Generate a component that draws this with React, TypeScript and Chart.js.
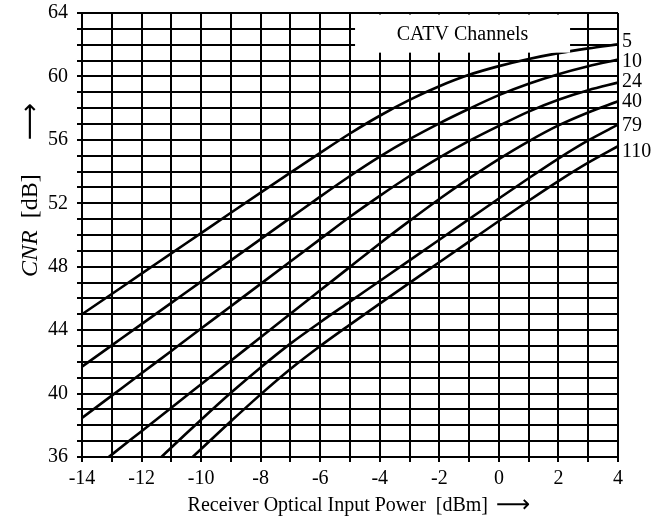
import React, { useEffect, useRef } from "react";
import { Chart, registerables } from "chart.js";

Chart.register(...registerables);

// Receiver optical input power [dBm]
const powerDbm = [-14, -13, -12, -11, -10, -9, -8, -7, -6, -5, -4, -3, -2, -1, 0, 1, 2, 3, 4];

// CNR [dB] for each number of CATV channels
const ch5 = [45.0, 46.28, 47.56, 48.84, 50.12, 51.4, 52.67, 53.93, 55.18, 56.4, 57.52, 58.52, 59.38, 60.1, 60.65, 61.1, 61.47, 61.77, 62.02];
const ch10 = [41.7, 43.04, 44.38, 45.72, 47.06, 48.4, 49.74, 51.08, 52.42, 53.72, 54.94, 56.04, 57.04, 57.96, 58.82, 59.54, 60.14, 60.64, 61.06];
const ch24 = [38.46, 39.87, 41.28, 42.69, 44.1, 45.51, 46.92, 48.33, 49.74, 51.15, 52.47, 53.72, 54.88, 55.93, 56.88, 57.78, 58.53, 59.13, 59.61];
const ch40 = [34.67, 36.15, 37.63, 39.11, 40.59, 42.07, 43.55, 45.03, 46.51, 47.99, 49.47, 50.89, 52.27, 53.57, 54.79, 55.91, 56.91, 57.73, 58.43];
const ch79 = [null, null, 34.8, 36.6, 38.35, 40.05, 41.65, 43.15, 44.5, 45.8, 47.1, 48.4, 49.7, 51.0, 52.3, 53.58, 54.82, 55.96, 56.96];
const ch110 = [null, null, null, 34.75, 36.5, 38.25, 39.95, 41.55, 43.0, 44.35, 45.67, 46.98, 48.28, 49.58, 50.88, 52.16, 53.4, 54.56, 55.6];

const seriesValues = [ch5, ch10, ch24, ch40, ch79, ch110];
const channelLabels = ["5", "10", "24", "40", "79", "110"];
// CNR value at which each curve's right-hand label sits
const channelLabelDb = [62.2, 60.95, 59.65, 58.4, 56.9, 55.25];

const legendTitle = "CATV Channels";
const legendBoxDbm = [-4.83, 2.39];
const legendBoxBottomDb = 61.5;

const xTitle = "Receiver Optical Input Power  [dBm] ";
const yTitleItalic = "CNR";
const yTitleUnit = "  [dB]  ";
const arrow = "\u27F6";

const serif = "'Liberation Serif', 'Times New Roman', serif";

const annotations = {
  id: "annotations",
  afterDatasetsDraw(chart: any) {
    const { ctx, chartArea, scales } = chart;
    const x = scales.x;
    const y = scales.y;
    ctx.save();
    // legend box
    const l = x.getPixelForValue(legendBoxDbm[0]);
    const r = x.getPixelForValue(legendBoxDbm[1]);
    const t = chartArea.top + 1.5;
    const b = y.getPixelForValue(legendBoxBottomDb);
    ctx.fillStyle = "#fff";
    ctx.fillRect(l, t, r - l, b - t);
    ctx.fillStyle = "#000";
    ctx.font = `20px ${serif}`;
    ctx.textAlign = "center";
    ctx.textBaseline = "middle";
    ctx.fillText(legendTitle, (l + r) / 2, (t + b) / 2 + 1);

    // channel labels at right end
    ctx.textAlign = "left";
    channelLabels.forEach((s, i) => {
      ctx.fillText(s, chartArea.right + 4, y.getPixelForValue(channelLabelDb[i]));
    });

    // x axis title
    ctx.textBaseline = "alphabetic";
    ctx.font = `20px ${serif}`;
    const w1 = ctx.measureText(xTitle).width;
    ctx.font = `24px ${serif}, 'DejaVu Sans'`;
    const w2 = ctx.measureText(arrow).width;
    const cx = (chartArea.left + chartArea.right) / 2 + 9;
    const sx = cx - (w1 + w2 + 3) / 2;
    ctx.font = `20px ${serif}`;
    ctx.fillText(xTitle, sx, chartArea.bottom + 54);
    ctx.font = `24px ${serif}, 'DejaVu Sans'`;
    ctx.fillText(arrow, sx + w1 + 3, chartArea.bottom + 55);

    // y axis title (rotated)
    ctx.translate(chartArea.left - 45, chartArea.bottom - 180);
    ctx.rotate(-Math.PI / 2);
    let px = 0;
    ctx.font = `italic 24px ${serif}`;
    ctx.fillText(yTitleItalic, px, 0);
    px += ctx.measureText(yTitleItalic).width;
    ctx.font = `24px ${serif}`;
    ctx.fillText(yTitleUnit, px, 0);
    px += ctx.measureText(yTitleUnit).width;
    ctx.font = `26px ${serif}, 'DejaVu Sans'`;
    ctx.fillText(arrow, px + 22, 1);
    ctx.restore();
  },
};

export default function App() {
  const ref = useRef<HTMLCanvasElement | null>(null);
  useEffect(() => {
    if (!ref.current) return;
    const chart = new Chart(ref.current, {
      type: "line",
      data: {
        labels: powerDbm,
        datasets: seriesValues.map((vals, i) => ({
          label: channelLabels[i],
          data: powerDbm.map((p, j) => ({ x: p, y: vals[j] })),
          borderColor: "#000",
          borderWidth: 2.6,
          pointRadius: 0,
          fill: false,
          cubicInterpolationMode: "monotone" as const,
          spanGaps: false,
        })),
      },
      options: {
        animation: false,
        responsive: true,
        maintainAspectRatio: false,
        layout: { padding: { top: 13, right: 48, left: 0, bottom: 0 } },
        plugins: { legend: { display: false }, tooltip: { enabled: false }, title: { display: false } },
        scales: {
          x: {
            type: "linear",
            min: -14,
            max: 4,
            afterFit(scale: any) {
              scale.height = 63;
              scale.paddingLeft = 0;
              scale.paddingRight = 0;
            },
            ticks: {
              stepSize: 1,
              autoSkip: false,
              maxRotation: 0,
              padding: 5,
              color: "#000",
              font: { family: serif, size: 20 },
              callback: (v: any) => (Number(v) % 2 === 0 ? String(v) : ""),
            },
            grid: { color: "#000", lineWidth: 2, tickLength: 5 },
            border: { color: "#000", width: 2 },
          },
          y: {
            type: "linear",
            min: 36,
            max: 64,
            afterFit(scale: any) {
              scale.width = 82;
              scale.paddingTop = 0;
              scale.paddingBottom = 0;
            },
            ticks: {
              stepSize: 1,
              autoSkip: false,
              padding: 9,
              color: "#000",
              font: { family: serif, size: 20 },
              callback: (v: any) => (Number(v) % 4 === 0 ? String(v) : ""),
            },
            grid: { color: "#000", lineWidth: 2, tickLength: 5 },
            border: { color: "#000", width: 2 },
          },
        },
      },
      plugins: [annotations],
    });
    return () => chart.destroy();
  }, []);
  return (
    <div style={{ position: "absolute", left: 0, top: 0, width: 666, height: 520, background: "#fff" }}>
      <canvas ref={ref} />
    </div>
  );
}
